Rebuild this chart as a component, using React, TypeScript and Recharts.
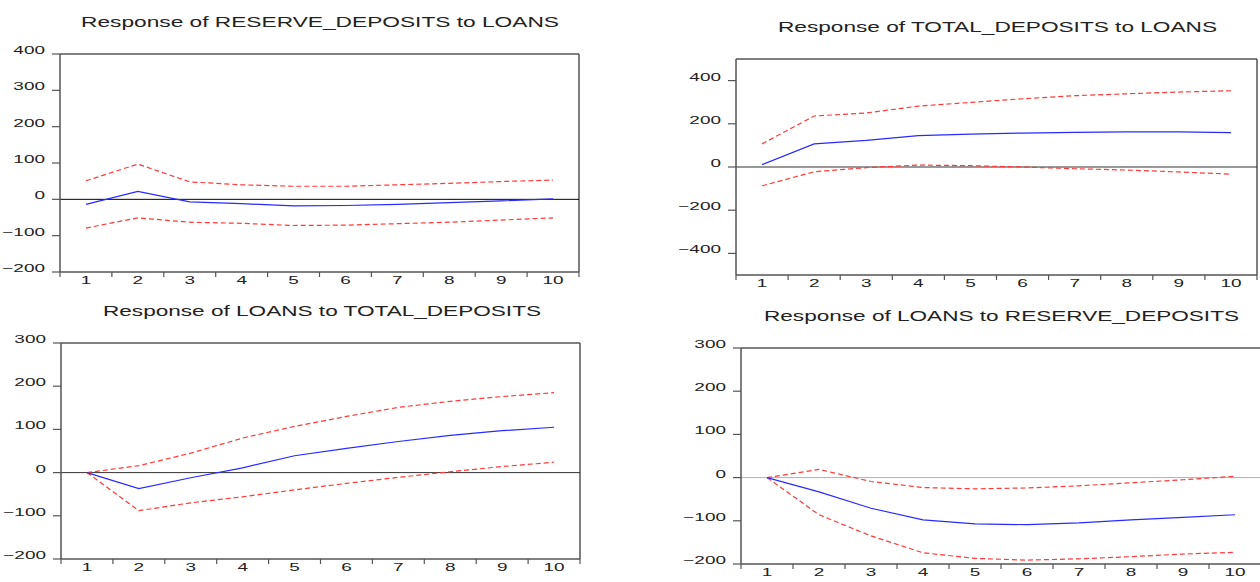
import React from 'react'
import { LineChart, Line, XAxis, YAxis, ReferenceLine } from 'recharts'

// impulse response horizon
const periods = [1, 2, 3, 4, 5, 6, 7, 8, 9, 10]

// Response of RESERVE_DEPOSITS to LOANS
const resToLoans = [-14, 22, -7, -12, -18, -17, -14, -9, -4, 1]
const resToLoansHi = [51, 97, 48, 40, 36, 36, 40, 44, 49, 53]
const resToLoansLo = [-79, -51, -63, -66, -72, -71, -67, -63, -57, -51]

// Response of TOTAL_DEPOSITS to LOANS
const totToLoans = [11, 107, 123, 145, 152, 157, 160, 163, 163, 159]
const totToLoansHi = [107, 236, 250, 282, 299, 316, 330, 339, 347, 353]
const totToLoansLo = [-87, -22, -3, 9, 6, 0, -8, -14, -23, -33]

// Response of LOANS to TOTAL_DEPOSITS
const loansToTot = [0, -37, -12, 11, 39, 56, 72, 86, 97, 105]
const loansToTotHi = [0, 16, 45, 80, 107, 130, 151, 165, 176, 185]
const loansToTotLo = [0, -88, -70, -56, -40, -25, -11, 2, 14, 24]

// Response of LOANS to RESERVE_DEPOSITS
const loansToRes = [0, -33, -71, -98, -107, -109, -105, -98, -92, -86]
const loansToResHi = [0, 19, -9, -23, -26, -24, -19, -12, -5, 3]
const loansToResLo = [0, -86, -135, -174, -187, -191, -188, -183, -177, -173]

const ticksA = [-200, -100, 0, 100, 200, 300, 400]
const ticksB = [-400, -200, 0, 200, 400]
const ticksC = [-200, -100, 0, 100, 200, 300]

const FONT = '"Liberation Sans", Arial, sans-serif'
const bounds = periods.map(p => p - 0.5).concat(periods[periods.length - 1] + 0.5)

function rows(mid: number[], hi: number[], lo: number[]) {
  return periods.map((p, i) => ({ period: p, mid: mid[i], hi: hi[i], lo: lo[i] }))
}

const fmt = (v: number) => (v < 0 ? '\u2212' + Math.abs(v) : String(v))

function YTick({ x, y, payload }: any) {
  return (
    <text transform={`translate(${x},${y}) scale(1.65,1)`} textAnchor="end" fontSize={11.5} fill="#222" fontFamily={FONT}>
      {fmt(payload.value)}
    </text>
  )
}

function XTick({ x, y, payload }: any) {
  return (
    <text transform={`translate(${x},${y + 11}) scale(1.65,1)`} textAnchor="middle" fontSize={11.5} fill="#222" fontFamily={FONT}>
      {payload.value}
    </text>
  )
}

const NoLabel = () => <g />

interface PanelProps {
  left: number; top: number; right: number; bottom: number
  domain: [number, number]; ticks: number[]
  data: { period: number; mid: number; hi: number; lo: number }[]
  zero: string
}

function Panel({ left, top, right, bottom, domain, ticks, data, zero }: PanelProps) {
  const w = right - left + 60 + 10
  const h = bottom - top + 10 + 24
  return (
    <div style={{ position: 'absolute', left: left - 60, top: top - 10 }}>
      <LineChart width={w} height={h} data={data} margin={{ top: 10, right: 10, left: 0, bottom: 0 }}>
        <XAxis xAxisId="a" dataKey="period" type="number" domain={[0.5, 10.5]} ticks={bounds}
          tick={<NoLabel />} tickSize={5} height={1} allowDataOverflow interval={0}
          axisLine={{ stroke: '#555', strokeWidth: 1.5 }} tickLine={{ stroke: '#555', strokeWidth: 1.2 }} />
        <XAxis xAxisId="lab" dataKey="period" type="number" domain={[0.5, 10.5]} ticks={periods} interval={0}
          tick={<XTick />} tickLine={false} axisLine={false} tickSize={0} tickMargin={0} height={23} allowDataOverflow />
        <YAxis type="number" domain={domain} ticks={ticks} width={60} tickSize={8} tickMargin={7} interval={0}
          tick={<YTick />} allowDataOverflow
          axisLine={{ stroke: '#555', strokeWidth: 1.5 }} tickLine={{ stroke: '#555', strokeWidth: 1.2 }} />
        <ReferenceLine xAxisId="lab" y={domain[1]} stroke="#000" ifOverflow="visible" />
        <ReferenceLine xAxisId="lab" x={10.5} stroke="#555" strokeWidth={1.5} ifOverflow="visible" />
        <ReferenceLine xAxisId="lab" y={0} stroke={zero} ifOverflow="visible" />
        <Line xAxisId="lab" dataKey="hi" stroke="#ff3a3a" strokeWidth={1.2} strokeDasharray="5 3" dot={false} isAnimationActive={false} />
        <Line xAxisId="lab" dataKey="lo" stroke="#ff3a3a" strokeWidth={1.2} strokeDasharray="5 3" dot={false} isAnimationActive={false} />
        <Line xAxisId="lab" dataKey="mid" stroke="#2a2aff" strokeWidth={1.2} dot={false} isAnimationActive={false} />
      </LineChart>
    </div>
  )
}

const titles = [
  { text: 'Response of RESERVE_DEPOSITS to LOANS', x1: 81, x2: 559, y: 27 },
  { text: 'Response of TOTAL_DEPOSITS to LOANS', x1: 778, x2: 1217, y: 32 },
  { text: 'Response of LOANS to TOTAL_DEPOSITS', x1: 103, x2: 541, y: 316 },
  { text: 'Response of LOANS to RESERVE_DEPOSITS', x1: 764, x2: 1239, y: 321 },
]

export default function App() {
  return (
    <div style={{ position: 'absolute', left: 0, top: 0, width: 1260, height: 582, overflow: 'hidden', background: '#fff' }}>
      <Panel left={60} top={54} right={579} bottom={272} domain={[-200, 400]} ticks={ticksA}
        data={rows(resToLoans, resToLoansHi, resToLoansLo)} zero="#000" />
      <Panel left={736} top={59} right={1257} bottom={275} domain={[-500, 500]} ticks={ticksB}
        data={rows(totToLoans, totToLoansHi, totToLoansLo)} zero="#333" />
      <Panel left={61} top={343} right={580} bottom={559} domain={[-200, 300]} ticks={ticksC}
        data={rows(loansToTot, loansToTotHi, loansToTotLo)} zero="#333" />
      <Panel left={741} top={348} right={1261} bottom={564} domain={[-200, 300]} ticks={ticksC}
        data={rows(loansToRes, loansToResHi, loansToResLo)} zero="#b0b0b0" />
      <svg width={1260} height={582} style={{ position: 'absolute', left: 0, top: 0, pointerEvents: 'none' }}>
        {titles.map(t => (
          <text key={t.text} x={t.x1} y={t.y} textLength={t.x2 - t.x1} lengthAdjust="spacingAndGlyphs"
            fontSize={15.5} fill="#222" fontFamily={FONT}>
            {t.text}
          </text>
        ))}
      </svg>
    </div>
  )
}
